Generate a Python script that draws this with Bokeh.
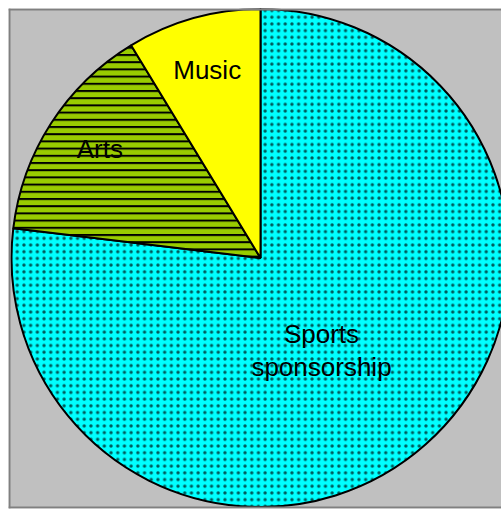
import numpy as np
from bokeh.plotting import figure
from bokeh.models import Range1d, Span
from bokeh.core.properties import value
from bokeh.embed import file_html
from bokeh.resources import INLINE

# ---- data ----
categories = ["Sports sponsorship", "Arts", "Music"]
labels = ["Sports\nsponsorship", "Arts", "Music"]
shares = [76.9, 14.4, 8.7]

# ---- style / layout ----
FW, FH = 493, 500          # frame size (pixels == data units)
CX, CY, R = 252, 250.5, 249
fills = ["#00FFFF", "#99CC00", "#FFFF00"]
hatches = ["dot", "horizontal_line", None]
hatch_scales = [6.7, 7.2, 7.0]
hatch_weights = [1.0, 2.0, 1.0]
hatch_alphas = [0.65, 1.0, 1.0]
label_offsets = [(61, -75.8), (-160.7, 109.2), (-53.3, 188.2)]
LINE_GAP = 33.4

total = float(sum(shares))
cum = np.cumsum([0.0] + list(shares)) / total * 2 * np.pi
starts = np.pi / 2 - cum[:-1]
ends = np.pi / 2 - cum[1:]

p = figure(width=FW + 8, height=FH + 9, x_range=Range1d(0, FW), y_range=Range1d(0, FH),
           output_backend="svg", toolbar_location=None,
           min_border_left=8, min_border_top=8, min_border_right=0, min_border_bottom=1,
           x_axis_type=None, y_axis_type=None,
           background_fill_color="#C0C0C0", border_fill_color="white",
           outline_line_color=None)
p.grid.visible = False

for i, cat in enumerate(categories):
    kw = dict(x=CX, y=CY, radius=R, start_angle=starts[i], end_angle=ends[i],
              direction="clock", fill_color=fills[i], line_color="black",
              line_width=2)
    if hatches[i] is not None:
        kw.update(hatch_pattern=hatches[i], hatch_color="black",
                  hatch_scale=hatch_scales[i], hatch_weight=hatch_weights[i],
                  hatch_alpha=hatch_alphas[i])
    p.wedge(**kw)

tx, ty, tt = [], [], []
for i, lab in enumerate(labels):
    dx, dy = label_offsets[i]
    for j, line in enumerate(lab.split("\n")):
        tx.append(CX + dx)
        ty.append(CY + dy - j * LINE_GAP)
        tt.append(line)

p.text(x=tx, y=ty, text=tt, text_font=value("Liberation Sans"),
       text_font_size="26px", text_align="center", text_baseline="alphabetic",
       text_color="black")

# frame border (left, top, bottom) in gray
p.add_layout(Span(location=1, dimension="height", line_color="#808080", line_width=2))
for loc in [FH - 1, 1]:
    p.add_layout(Span(location=loc, dimension="width", line_color="#808080", line_width=2))

open("out.html", "w").write(file_html(p, INLINE))
